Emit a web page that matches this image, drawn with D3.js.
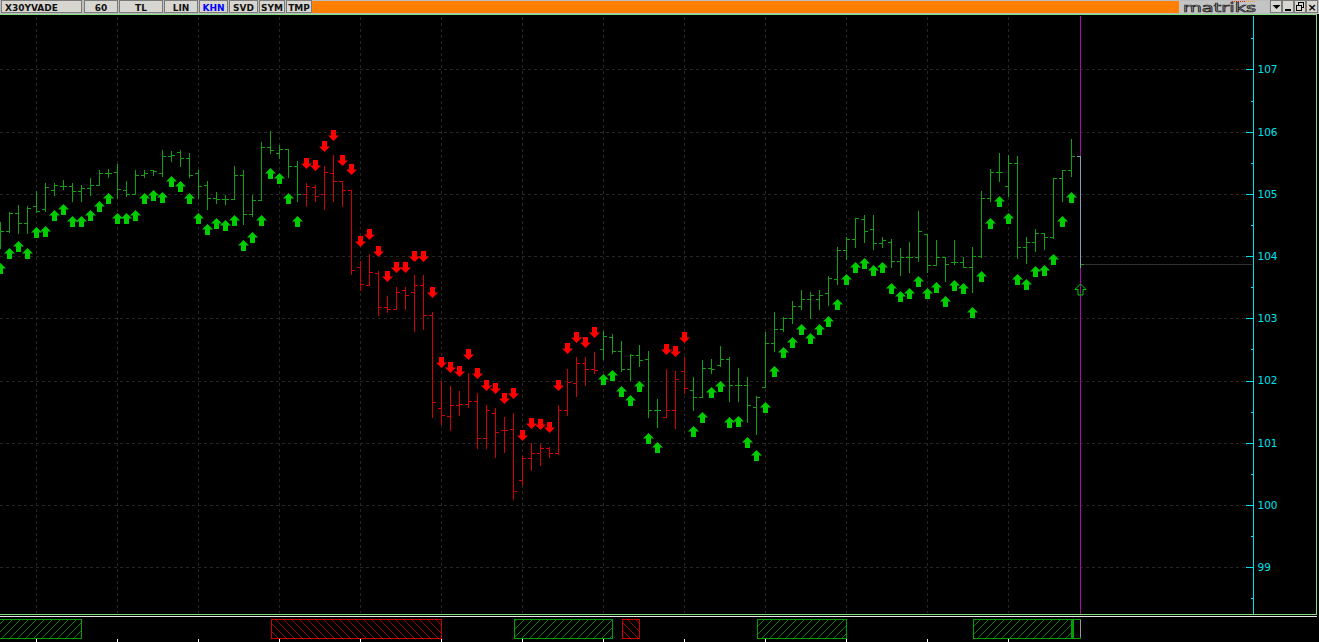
<!DOCTYPE html>
<html><head><meta charset="utf-8">
<script src="https://cdn.jsdelivr.net/npm/d3@7"></script>
<style>html,body{margin:0;padding:0;background:#000;overflow:hidden}</style>
</head><body><svg id="c" width="1319" height="642"></svg>
<script>
// ---------- data (hourly bars, index 0..120) ----------
const opens=[104.21,104.40,104.70,104.54,104.81,104.75,105.07,105.12,105.12,105.05,
105.10,105.15,105.34,105.35,105.07,104.99,105.30,105.38,105.33,105.61,
105.68,105.57,105.34,105.14,104.94,104.92,104.92,105.30,104.68,104.90,
105.76,105.65,105.72,105.45,105.00,105.11,104.99,105.33,105.20,105.07,
103.83,103.53,103.73,103.18,103.15,103.45,103.42,103.54,103.05,101.56,
101.43,101.61,101.62,101.68,101.07,101.48,101.21,101.22,100.40,100.76,
100.84,100.92,100.84,101.53,101.96,102.28,102.18,102.50,102.70,102.47,
102.19,102.41,102.34,101.52,101.42,101.52,102.16,101.85,101.73,102.20,
102.25,102.34,101.93,101.93,101.57,101.90,102.60,102.83,103.00,103.20,
103.31,103.31,103.40,103.63,104.10,104.27,104.59,104.43,104.21,104.22,
103.92,103.99,103.99,104.35,103.86,103.99,103.90,103.90,103.83,104.00,
104.93,105.35,105.12,105.49,104.14,104.22,104.37,104.31,105.25,105.39,
105.61];
const highs=[104.55,104.71,104.82,104.81,105.04,105.18,105.17,105.22,105.18,105.15,
105.25,105.38,105.40,105.48,105.21,105.38,105.39,105.39,105.70,105.69,
105.70,105.66,105.38,105.21,105.03,104.98,105.44,105.39,104.98,105.84,
106.01,105.79,105.72,105.53,105.17,105.15,105.45,105.62,105.21,105.07,
103.92,104.04,103.76,103.36,103.50,103.50,103.69,103.69,103.10,101.99,
101.91,101.84,102.12,101.80,101.61,101.56,101.41,101.48,100.79,101.00,
100.98,100.94,101.61,102.19,102.38,102.38,102.46,102.80,102.75,102.64,
102.43,102.57,102.48,101.71,102.19,102.16,102.38,102.06,102.33,102.34,
102.56,102.38,102.20,102.06,101.76,102.78,103.11,103.02,103.28,103.46,
103.42,103.46,103.68,104.15,104.30,104.62,104.66,104.66,104.30,104.28,
104.13,104.22,104.72,104.35,104.26,103.99,104.26,103.99,104.14,105.04,
105.40,105.65,105.62,105.61,104.31,104.44,104.37,105.25,105.39,105.88,
105.61];
const lows=[104.13,104.38,104.37,104.37,104.71,104.73,104.98,105.08,104.89,104.89,
104.98,105.14,105.27,104.94,104.96,104.99,105.27,105.31,105.28,105.53,
105.45,105.27,104.94,104.76,104.85,104.83,104.92,104.51,104.65,104.90,
105.66,105.57,105.27,104.89,104.81,104.89,104.76,104.89,104.81,103.71,
103.46,103.53,103.06,103.11,103.15,103.15,102.79,102.83,101.41,101.31,
101.21,101.45,101.57,100.91,100.91,100.77,100.86,100.10,100.33,100.56,
100.64,100.77,100.82,101.45,101.75,101.93,102.12,102.35,102.44,102.15,
102.01,102.24,101.41,101.26,101.41,101.24,101.80,101.52,101.73,102.12,
102.24,101.67,101.68,101.34,101.14,101.90,102.48,102.79,102.93,103.15,
103.01,103.15,103.21,103.55,103.96,104.15,104.22,104.12,104.14,103.82,
103.69,103.74,103.92,103.74,103.86,103.60,103.87,103.82,103.43,103.99,
104.88,105.21,104.96,103.97,103.89,104.09,104.11,104.29,104.89,105.28,
103.82];
const closes=[104.40,104.70,104.53,104.78,104.73,105.11,105.14,105.12,105.05,105.10,
105.14,105.33,105.34,105.08,105.00,105.30,105.34,105.37,105.61,105.62,
105.58,105.30,105.12,104.94,104.92,104.92,105.30,104.67,104.90,105.76,
105.70,105.72,105.45,105.00,105.12,104.97,105.35,105.21,105.07,103.77,
103.55,103.74,103.18,103.15,103.43,103.38,103.54,103.06,101.65,101.44,
101.61,101.62,101.68,101.08,101.52,101.17,101.21,100.23,100.76,100.84,
100.91,100.84,101.53,101.98,102.28,102.18,102.17,102.71,102.47,102.19,
102.41,102.33,101.52,101.52,101.52,102.02,101.88,101.73,102.20,102.18,
102.34,101.93,101.93,101.61,101.73,102.60,102.83,103.00,103.20,103.31,
103.37,103.37,103.65,104.10,104.27,104.61,104.40,104.21,104.26,103.92,
103.98,103.99,104.40,103.86,103.99,103.87,103.90,103.83,104.00,104.93,
105.35,105.35,105.49,104.14,104.22,104.37,104.31,105.25,105.39,105.61,
103.87];
// signal arrow level (arrow's upper edge) and direction: 1 buy, -1 sell, 0 pending
const signalLevels=[103.89,104.13,104.24,104.13,104.47,104.48,104.74,104.83,104.65,104.65,
104.74,104.89,105.01,104.69,104.70,104.74,105.01,105.06,105.03,105.29,
105.21,105.01,104.69,104.51,104.61,104.58,104.66,104.26,104.39,104.66,
105.42,105.34,105.01,104.65,105.57,105.55,105.85,106.03,105.62,105.48,
104.32,104.44,104.16,103.76,103.90,103.90,104.08,104.08,103.51,102.38,
102.30,102.24,102.51,102.20,102.01,101.96,101.80,101.88,101.21,101.40,
101.38,101.33,102.01,102.60,102.78,102.70,102.86,102.11,102.17,101.92,
101.77,102.00,101.16,101.02,102.59,102.56,102.78,101.27,101.50,101.89,
102.00,101.42,101.43,101.10,100.89,101.66,102.24,102.54,102.70,102.91,
102.77,102.91,103.04,103.31,103.71,103.91,103.97,103.86,103.91,103.57,
103.44,103.49,103.68,103.49,103.59,103.36,103.62,103.57,103.18,103.76,
104.61,104.97,104.69,103.71,103.63,103.84,103.86,104.04,104.65,105.03,
103.55];
const signalDirs=[1,1,1,1,1,1,1,1,1,1,
1,1,1,1,1,1,1,1,1,1,
1,1,1,1,1,1,1,1,1,1,
1,1,1,1,-1,-1,-1,-1,-1,-1,
-1,-1,-1,-1,-1,-1,-1,-1,-1,-1,
-1,-1,-1,-1,-1,-1,-1,-1,-1,-1,
-1,-1,-1,-1,-1,-1,-1,1,1,1,
1,1,1,1,-1,-1,-1,1,1,1,
1,1,1,1,1,1,1,1,1,1,
1,1,1,1,1,1,1,1,1,1,
1,1,1,1,1,1,1,1,1,1,
1,1,1,1,1,1,1,1,1,1,
0];
const yTickValues=[99,100,101,102,103,104,105,106,107];
const yMinorValues=[98.5,99.5,100.5,101.5,102.5,103.5,104.5,105.5,106.5,107.5];
const timeGridBars=[4,13,22,31,40,49,58,67,76,85,94,103,112];
const toolbarLabels=["X30YVADE","60","TL","LIN","KHN","SVD","SYM","TMP"];
const bandStarts=[-1,30,57,69,84,108];
const bandEnds=[9,49,68,71,94,119];
const bandKinds=["up","down","up","down","up","up"];

// ---------- drawing ----------
const svg=d3.select("#c");
const x=d3.scaleLinear().domain([0,120]).range([0.5,1080.5]);
const y=d3.scaleLinear().domain([99,107]).range([567.3,69.4]);
const C={barUp:"#10a010",barDown:"#d00000",arUp:"#00cc00",arDown:"#ff0000",grid:"#262626",axis:"#00e0ec"};

svg.append("rect").attr("width",1319).attr("height",642).attr("fill","#000");

const defs=svg.append("defs");
defs.append("clipPath").attr("id","plot").append("rect").attr("x",0).attr("y",16).attr("width",1245).attr("height",597);
function hatch(id,col,dir){
  const p=defs.append("pattern").attr("id",id).attr("patternUnits","userSpaceOnUse").attr("width",8).attr("height",8);
  p.append("path").attr("d",dir>0?"M0,8L8,0M-2,2L2,-2M6,10L10,6":"M0,0L8,8M-2,6L2,10M6,-2L10,2")
   .attr("stroke",col).attr("stroke-width",0.8).attr("fill","none");
}
hatch("hUp","#00a000",1);hatch("hDown","#c00000",-1);

// grid
const g=svg.append("g").attr("shape-rendering","crispEdges");
g.selectAll(".hg").data(yTickValues).join("line")
 .attr("x1",0).attr("x2",1245).attr("y1",d=>Math.round(y(d))+0.5).attr("y2",d=>Math.round(y(d))+0.5)
 .attr("stroke",C.grid).attr("stroke-dasharray","3,3");
g.selectAll(".vg").data(timeGridBars).join("line")
 .attr("x1",d=>x(d)).attr("x2",d=>x(d)).attr("y1",17).attr("y2",613)
 .attr("stroke",C.grid).attr("stroke-dasharray","3,3");

// axis
const ax=svg.append("g").attr("transform","translate(1253.5,0)");
ax.call(d3.axisRight(y).tickValues(yTickValues).tickSize(-8).tickPadding(4).tickFormat(d3.format("d")));
ax.select(".domain").remove();
ax.selectAll(".tick line").attr("stroke",C.axis).attr("shape-rendering","crispEdges");
ax.selectAll(".tick text").attr("fill",C.axis).attr("font-family","DejaVu Sans").attr("font-size","10.5px");
const ax2=svg.append("g").attr("transform","translate(1253.5,0)");
ax2.call(d3.axisRight(y).tickValues(yMinorValues).tickSize(-3).tickFormat(""));
ax2.select(".domain").remove();
ax2.selectAll(".tick line").attr("stroke",C.axis).attr("shape-rendering","crispEdges");
svg.append("line").attr("x1",1253.5).attr("x2",1253.5).attr("y1",16).attr("y2",614).attr("stroke",C.axis);

// current price line & cursor
const lastI=opens.length-1;
svg.append("line").attr("x1",x(lastI)+3).attr("x2",1252).attr("y1",Math.round(y(closes[lastI]))+0.5).attr("y2",Math.round(y(closes[lastI]))+0.5)
 .attr("stroke","#333");
svg.append("line").attr("x1",x(lastI)).attr("x2",x(lastI)).attr("y1",16).attr("y2",614).attr("stroke","#a010a8");

// bars
const bars=svg.append("g").attr("clip-path","url(#plot)").attr("shape-rendering","crispEdges");
const idx=d3.range(opens.length);
const barCol=i=>signalDirs[i]===0?"#8a9cb0":(signalDirs[i]>0?C.barUp:C.barDown);
const ry=v=>Math.round(y(v))+0.5;
bars.selectAll(".hl").data(idx).join("line")
 .attr("x1",i=>x(i)).attr("x2",i=>x(i)).attr("y1",i=>ry(highs[i])-0.5).attr("y2",i=>ry(lows[i])+0.5).attr("stroke",barCol);
bars.selectAll(".op").data(idx).join("line")
 .attr("x1",i=>x(i)-3.5).attr("x2",i=>x(i)).attr("y1",i=>ry(opens[i])).attr("y2",i=>ry(opens[i])).attr("stroke",barCol);
bars.selectAll(".cl").data(idx).join("line")
 .attr("x1",i=>x(i)).attr("x2",i=>x(i)+3.5).attr("y1",i=>ry(closes[i])).attr("y2",i=>ry(closes[i]))
 .attr("stroke",i=>signalDirs[i]===0?C.barUp:barCol(i));

// arrows
const upPath="M0,0L5.5,5.5L2.5,5.5L2.5,11L-2.5,11L-2.5,5.5L-5.5,5.5Z";
const dnPath="M-2.5,0L2.5,0L2.5,5.5L5.5,5.5L0,11L-5.5,5.5L-2.5,5.5Z";
bars.selectAll(".ar").data(idx).join("path")
 .attr("transform",i=>`translate(${x(i)},${Math.round(y(signalLevels[i]))})`)
 .attr("d",i=>signalDirs[i]<0?dnPath:upPath)
 .attr("fill",i=>signalDirs[i]===0?"none":(signalDirs[i]>0?C.arUp:C.arDown))
 .attr("stroke",i=>signalDirs[i]===0?C.arUp:"none").attr("stroke-width",1)
 .attr("shape-rendering","auto");

// frame
svg.append("line").attr("x1",0).attr("x2",1317).attr("y1",14.5).attr("y2",14.5).attr("stroke","#7ee07e");
svg.append("line").attr("x1",1316.5).attr("x2",1316.5).attr("y1",14).attr("y2",615).attr("stroke","#7ee07e");
svg.append("line").attr("x1",0).attr("x2",1317).attr("y1",614.5).attr("y2",614.5).attr("stroke","#7ee07e");
svg.append("line").attr("x1",0).attr("x2",1317).attr("y1",616.5).attr("y2",616.5).attr("stroke","#e8e8e8");

// lower band panel
const bp=svg.append("g").attr("shape-rendering","crispEdges");
bp.selectAll(".bd").data(d3.range(bandStarts.length)).join("rect")
 .attr("x",k=>x(bandStarts[k])+1).attr("y",619.5)
 .attr("width",k=>x(bandEnds[k])-x(bandStarts[k])-1).attr("height",19)
 .attr("fill",k=>bandKinds[k]==="up"?"url(#hUp)":"url(#hDown)")
 .attr("stroke",k=>bandKinds[k]==="up"?"#00a000":"#d00000");
bp.append("rect").attr("x",x(lastI-1)+1).attr("y",619.5).attr("width",x(lastI)-x(lastI-1)-1).attr("height",19)
 .attr("fill","#000").attr("stroke","#00a000").attr("stroke-width",1);
bp.append("line").attr("x1",x(lastI-1)+1.5).attr("x2",x(lastI-1)+1.5).attr("y1",620).attr("y2",638).attr("stroke","#00a000");
bp.append("line").attr("x1",x(lastI)).attr("x2",x(lastI)).attr("y1",620).attr("y2",637).attr("stroke","#999");
bp.selectAll(".bt").data(timeGridBars).join("line")
 .attr("x1",d=>x(d)).attr("x2",d=>x(d)).attr("y1",639).attr("y2",642).attr("stroke","#fff");

// ---------- toolbar ----------
const tb=svg.append("g").attr("shape-rendering","crispEdges");
tb.append("rect").attr("x",0).attr("y",0).attr("width",1319).attr("height",13.5).attr("fill","#bdbdbd");
const btnX=[1,84,119,164,199,229,259,286], btnW=[81,34,44,34,29,29,26,26];
toolbarLabels.forEach((t,k)=>{
  tb.append("rect").attr("x",btnX[k]+0.5).attr("y",0.5).attr("width",btnW[k]-1).attr("height",12)
    .attr("fill","#d8d6d0").attr("stroke","#7a7a7a");
  svg.append("text").text(t).attr("x",k===0?btnX[k]+4:btnX[k]+btnW[k]/2).attr("y",10.5)
    .attr("text-anchor",k===0?"start":"middle").attr("font-family","DejaVu Sans").attr("font-weight","bold")
    .attr("font-size","9px").attr("fill",t==="KHN"?"#0000ff":"#111");
});
tb.append("rect").attr("x",312).attr("y",1).attr("width",867).attr("height",12).attr("fill","#ff8000");
tb.append("rect").attr("x",1179).attr("y",1).attr("width",90).attr("height",12).attr("fill","#c4c4c4");
svg.append("text").text("matriks").attr("x",1183).attr("y",12).attr("textLength",73).attr("lengthAdjust","spacingAndGlyphs")
 .attr("font-family","DejaVu Sans").attr("font-size","13px").attr("fill","none").attr("stroke","#222").attr("stroke-width",0.7);
svg.append("line").attr("x1",1232).attr("x2",1246).attr("y1",1.5).attr("y2",1.5).attr("stroke","#e02000").attr("stroke-dasharray","1,1");
svg.append("line").attr("x1",1246).attr("x2",1256).attr("y1",1.5).attr("y2",1.5).attr("stroke","#ffa020").attr("stroke-dasharray","1,1");
const wbX=[1270,1282,1294,1306];
wbX.forEach(bx=>tb.append("rect").attr("x",bx+0.5).attr("y",0.5).attr("width",11).attr("height",12).attr("fill","#d8d6d0").attr("stroke","#7a7a7a"));
svg.append("path").attr("d","M1272.5,5L1280.5,5L1276.5,9Z").attr("fill","#000");
svg.append("rect").attr("x",1285).attr("y",9).attr("width",6).attr("height",2).attr("fill","#000");
svg.append("rect").attr("x",1298.5).attr("y",2.5).attr("width",5).attr("height",5).attr("fill","none").attr("stroke","#000");
svg.append("rect").attr("x",1296.5).attr("y",5.5).attr("width",5).attr("height",5).attr("fill","#d8d6d0").attr("stroke","#000");
svg.append("text").text("×").attr("x",1312).attr("y",11).attr("text-anchor","middle").attr("font-family","DejaVu Sans")
 .attr("font-weight","bold").attr("font-size","11px").attr("fill","#000");
</script></body></html>
